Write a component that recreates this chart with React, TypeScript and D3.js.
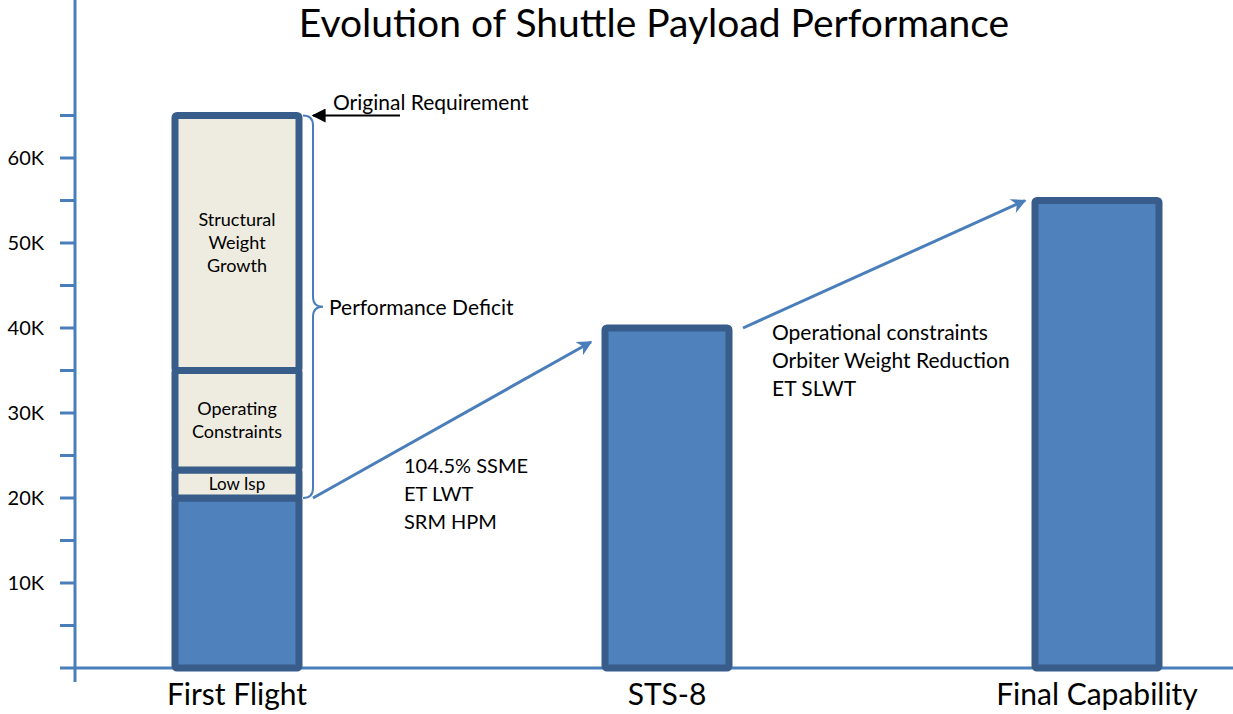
import React from "react";
import * as d3 from "d3";

const categories = ["First Flight", "STS-8", "Final Capability"];
const capability = [20000, 40000, 55000];

// stacked deficit pieces on top of the first flight bar
const deficitNames = ["Low Isp", "Operating Constraints", "Structural Weight Growth"];
const deficitTops = [23300, 35000, 65000];
const deficitLines = [["Low Isp"], ["Operating", "Constraints"], ["Structural", "Weight", "Growth"]];

const requirement = 65000;
const yTicks = d3.range(5000, 70000, 5000);
const yLabels = [10000, 20000, 30000, 40000, 50000, 60000];

const improvements1 = ["104.5% SSME", "ET LWT", "SRM HPM"];
const improvements2 = ["Operational constraints", "Orbiter Weight Reduction", "ET SLWT"];

const W = 1233;
const H = 714;
const axisX = 75;
const baseY = 668;
const barW = 124;
const barStroke = 7;

const blue = "#4a7ebb";
const barFill = "#4f81bd";
const barEdge = "#385d8a";
const beige = "#eeece1";
const font = "Lato, 'Open Sans', sans-serif";

export default function App() {
  const x = d3.scalePoint<string>().domain(categories).range([237, 1097]);
  const y = d3.scaleLinear().domain([0, 10000]).range([baseY, baseY - 85]);

  const c0 = x(categories[0])!;
  const c1 = x(categories[1])!;
  const c2 = x(categories[2])!;

  const segs = deficitTops.map((top, i) => ({
    name: deficitNames[i],
    lo: i === 0 ? capability[0] : deficitTops[i - 1],
    hi: top,
    lines: deficitLines[i],
  }));

  // brace on the right of the first bar
  const bx = c0 + barW / 2 + 4;
  const bTop = y(requirement);
  const bBot = y(capability[0]);
  const bMid = (bTop + bBot) / 2;
  const braceX = bx + 10;
  const brace = `M${bx},${bTop} Q${braceX},${bTop} ${braceX},${bTop + 10} L${braceX},${bMid - 10} Q${braceX},${bMid} ${braceX + 10},${bMid} Q${braceX},${bMid} ${braceX},${bMid + 10} L${braceX},${bBot - 10} Q${braceX},${bBot} ${bx},${bBot}`;

  const a1 = { x1: c0 + barW / 2 + 14, y1: y(capability[0]), x2: c1 - barW / 2 - 14, y2: y(capability[1]) + 14 };
  const a2 = { x1: c1 + barW / 2 + 14, y1: y(capability[1]), x2: c2 - barW / 2 - 10, y2: y(capability[2]) };

  return (
    <svg width={W} height={H} style={{ position: "absolute", left: 0, top: 0, background: "#fff" }} fontFamily={font}>
      <defs>
        <marker id="headBlue" viewBox="0 0 10 10" refX="9" refY="5" markerWidth="18" markerHeight="15" markerUnits="userSpaceOnUse" orient="auto">
          <path d="M0,0 L10,5 L0,10 L3,5 Z" fill={blue} />
        </marker>
        <marker id="headBlack" viewBox="0 0 10 10" refX="9" refY="5" markerWidth="16" markerHeight="14" markerUnits="userSpaceOnUse" orient="auto">
          <path d="M0,0 L10,5 L0,10 Z" fill="#000" />
        </marker>
      </defs>

      <text x={654} y={37} textAnchor="middle" fontSize={39} fill="#000">
        Evolution of Shuttle Payload Performance
      </text>

      {/* axes */}
      <line x1={axisX} x2={axisX} y1={0} y2={682} stroke={blue} strokeWidth={3} />
      <line x1={60} x2={W} y1={baseY} y2={baseY} stroke={blue} strokeWidth={3} />
      {yTicks.map((t) => (
        <line key={t} x1={60} x2={axisX} y1={y(t)} y2={y(t)} stroke={blue} strokeWidth={3} />
      ))}
      {yLabels.map((t) => (
        <text key={t} x={44} y={y(t) + 7} textAnchor="end" fontSize={20} fill="#000">
          {d3.format("d")(t / 1000)}K
        </text>
      ))}

      {/* capability bars */}
      {categories.map((c, i) => (
        <rect key={c} x={x(c)! - barW / 2} y={y(capability[i])} width={barW} height={y(0) - y(capability[i])}
          fill={barFill} stroke={barEdge} strokeWidth={barStroke} rx={2} />
      ))}

      {/* deficit stack */}
      {segs.map((s) => (
        <g key={s.name}>
          <rect x={c0 - barW / 2} y={y(s.hi)} width={barW} height={y(s.lo) - y(s.hi)}
            fill={beige} stroke={barEdge} strokeWidth={barStroke} rx={2} />
          {s.lines.map((ln, j) => (
            <text key={ln} x={c0} textAnchor="middle" fontSize={s.lines.length === 1 ? 17 : 18} fill="#000"
              y={(y(s.hi) + y(s.lo)) / 2 + (j - (s.lines.length - 1) / 2) * 23 + 6}>
              {ln}
            </text>
          ))}
        </g>
      ))}

      {/* category labels */}
      {categories.map((c) => (
        <text key={c} x={x(c)!} y={705} textAnchor="middle" fontSize={30} fill="#000">{c}</text>
      ))}

      {/* annotations */}
      <path d={brace} fill="none" stroke={blue} strokeWidth={2} />
      <text x={bx + 26} y={bMid + 8} fontSize={21} fill="#000">Performance Deficit</text>

      <line x1={400} x2={bx + 10} y1={y(requirement)} y2={y(requirement)} stroke="#000" strokeWidth={2} markerEnd="url(#headBlack)" />
      <text x={333} y={y(requirement) - 6} fontSize={21} fill="#000">Original Requirement</text>

      <line {...a1} stroke={blue} strokeWidth={3} markerEnd="url(#headBlue)" />
      <line {...a2} stroke={blue} strokeWidth={3} markerEnd="url(#headBlue)" />

      {improvements1.map((t, i) => (
        <text key={t} x={404} y={473 + i * 28} fontSize={20} fill="#000">{t}</text>
      ))}
      {improvements2.map((t, i) => (
        <text key={t} x={772} y={340 + i * 28} fontSize={21} fill="#000">{t}</text>
      ))}
    </svg>
  );
}
